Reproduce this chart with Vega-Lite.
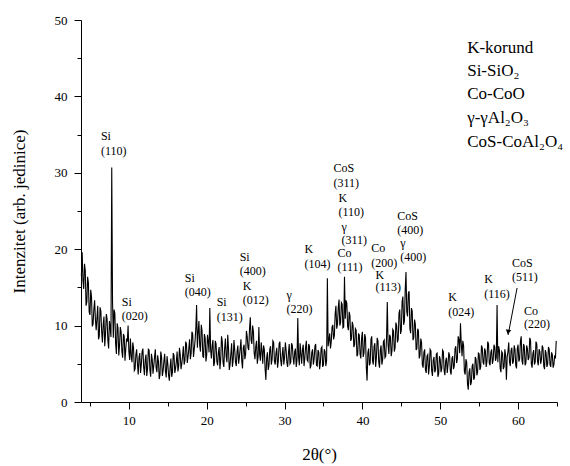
{
  "$schema": "https://vega.github.io/schema/vega-lite/v6.json",
  "width": 476,
  "height": 382,
  "autosize": {"type": "none"},
  "padding": {"left": 81, "top": 20, "right": 13, "bottom": 64},
  "background": "white",
  "config": {
    "view": {"stroke": null},
    "font": "Liberation Serif, Times New Roman, serif",
    "axis": {"domainColor": "black", "tickColor": "black", "labelColor": "black", "titleColor": "black", "grid": false, "labelFont": "Liberation Serif, Times New Roman, serif", "titleFont": "Liberation Serif, Times New Roman, serif", "labelFontSize": 13, "titleFontSize": 17, "titleFontWeight": "normal", "domainWidth": 1, "tickWidth": 1, "labelOverlap": false}
  },
  "datasets": {
    "xrd": [
{"x":3.9,"y":16.5},{"x":4.0,"y":19.6},{"x":4.1,"y":15.9},{"x":4.2,"y":14.8},{"x":4.3,"y":18.1},{"x":4.4,"y":17.2},{"x":4.5,"y":12.6},{"x":4.6,"y":13.1},{"x":4.7,"y":16.4},{"x":4.8,"y":15.6},{"x":4.9,"y":11.8},
{"x":5.0,"y":11.4},{"x":5.1,"y":14.7},{"x":5.2,"y":13.8},{"x":5.3,"y":9.9},{"x":5.4,"y":10.2},{"x":5.5,"y":12.1},{"x":5.6,"y":13.3},{"x":5.7,"y":10.8},{"x":5.8,"y":9.4},{"x":5.9,"y":11.0},
{"x":6.0,"y":12.6},{"x":6.1,"y":8.2},{"x":6.2,"y":8.6},{"x":6.3,"y":12.4},{"x":6.4,"y":11.9},{"x":6.5,"y":9.3},{"x":6.6,"y":7.8},{"x":6.7,"y":10.1},{"x":6.8,"y":11.2},{"x":6.9,"y":7.3},
{"x":7.0,"y":8.9},{"x":7.1,"y":11.5},{"x":7.2,"y":10.9},{"x":7.3,"y":8.1},{"x":7.4,"y":7.0},{"x":7.5,"y":10.6},{"x":7.6,"y":9.8},{"x":7.7,"y":8.5},{"x":7.8,"y":30.7},{"x":7.9,"y":13.2},
{"x":8.0,"y":8.4},{"x":8.1,"y":12.1},{"x":8.2,"y":11.6},{"x":8.3,"y":7.6},{"x":8.4,"y":6.3},{"x":8.5,"y":10.3},{"x":8.6,"y":9.7},{"x":8.7,"y":6.1},{"x":8.8,"y":7.4},{"x":8.9,"y":9.8},
{"x":9.0,"y":9.2},{"x":9.1,"y":6.6},{"x":9.2,"y":5.8},{"x":9.3,"y":8.9},{"x":9.4,"y":8.6},{"x":9.5,"y":5.4},{"x":9.6,"y":6.9},{"x":9.7,"y":8.3},{"x":9.8,"y":7.9},{"x":9.9,"y":10.0},
{"x":10.0,"y":6.6},{"x":10.1,"y":5.5},{"x":10.2,"y":8.3},{"x":10.3,"y":6.0},{"x":10.4,"y":5.2},{"x":10.5,"y":7.8},{"x":10.6,"y":7.1},{"x":10.7,"y":4.1},{"x":10.8,"y":4.3},{"x":10.9,"y":6.2},
{"x":11.0,"y":6.9},{"x":11.1,"y":5.0},{"x":11.2,"y":3.6},{"x":11.3,"y":5.8},{"x":11.4,"y":6.4},{"x":11.5,"y":3.8},{"x":11.6,"y":4.9},{"x":11.7,"y":6.6},{"x":11.8,"y":7.0},{"x":11.9,"y":4.6},
{"x":12.0,"y":3.5},{"x":12.1,"y":5.5},{"x":12.2,"y":6.2},{"x":12.3,"y":3.4},{"x":12.4,"y":4.4},{"x":12.5,"y":6.9},{"x":12.6,"y":6.8},{"x":12.7,"y":4.2},{"x":12.8,"y":3.3},{"x":12.9,"y":6.3},
{"x":13.0,"y":5.6},{"x":13.1,"y":3.7},{"x":13.2,"y":4.8},{"x":13.3,"y":5.9},{"x":13.4,"y":6.9},{"x":13.5,"y":4.5},{"x":13.6,"y":3.9},{"x":13.7,"y":6.1},{"x":13.8,"y":5.3},{"x":13.9,"y":3.0},
{"x":14.0,"y":3.6},{"x":14.1,"y":6.6},{"x":14.2,"y":5.9},{"x":14.3,"y":3.4},{"x":14.4,"y":4.1},{"x":14.5,"y":5.4},{"x":14.6,"y":6.3},{"x":14.7,"y":4.0},{"x":14.8,"y":3.2},{"x":14.9,"y":6.0},
{"x":15.0,"y":5.0},{"x":15.1,"y":3.5},{"x":15.2,"y":2.8},{"x":15.3,"y":4.6},{"x":15.4,"y":5.7},{"x":15.5,"y":3.3},{"x":15.6,"y":3.9},{"x":15.7,"y":6.4},{"x":15.8,"y":6.1},{"x":15.9,"y":3.8},
{"x":16.0,"y":4.4},{"x":16.1,"y":5.3},{"x":16.2,"y":6.6},{"x":16.3,"y":4.0},{"x":16.4,"y":4.7},{"x":16.5,"y":7.1},{"x":16.6,"y":6.2},{"x":16.7,"y":4.3},{"x":16.8,"y":5.0},{"x":16.9,"y":6.0},
{"x":17.0,"y":7.3},{"x":17.1,"y":4.9},{"x":17.2,"y":5.4},{"x":17.3,"y":7.9},{"x":17.4,"y":7.6},{"x":17.5,"y":5.1},{"x":17.6,"y":5.9},{"x":17.7,"y":7.0},{"x":17.8,"y":8.2},{"x":17.9,"y":5.6},
{"x":18.0,"y":6.4},{"x":18.1,"y":9.2},{"x":18.2,"y":8.9},{"x":18.3,"y":5.9},{"x":18.4,"y":6.9},{"x":18.5,"y":8.0},{"x":18.6,"y":9.6},{"x":18.7,"y":12.7},{"x":18.8,"y":7.1},{"x":18.9,"y":9.1},
{"x":19.0,"y":10.6},{"x":19.1,"y":7.4},{"x":19.2,"y":6.6},{"x":19.3,"y":10.1},{"x":19.4,"y":9.3},{"x":19.5,"y":6.0},{"x":19.6,"y":5.8},{"x":19.7,"y":8.9},{"x":19.8,"y":8.4},{"x":19.9,"y":5.3},
{"x":20.0,"y":6.2},{"x":20.1,"y":8.8},{"x":20.2,"y":7.9},{"x":20.3,"y":6.5},{"x":20.4,"y":12.3},{"x":20.5,"y":6.9},{"x":20.6,"y":5.7},{"x":20.7,"y":7.4},{"x":20.8,"y":8.1},{"x":20.9,"y":4.7},
{"x":21.0,"y":5.1},{"x":21.1,"y":8.0},{"x":21.2,"y":7.6},{"x":21.3,"y":5.3},{"x":21.4,"y":4.8},{"x":21.5,"y":6.5},{"x":21.6,"y":7.2},{"x":21.7,"y":4.3},{"x":21.8,"y":5.6},{"x":21.9,"y":8.6},
{"x":22.0,"y":7.9},{"x":22.1,"y":5.1},{"x":22.2,"y":4.6},{"x":22.3,"y":7.0},{"x":22.4,"y":8.3},{"x":22.5,"y":6.0},{"x":22.6,"y":5.2},{"x":22.7,"y":8.8},{"x":22.8,"y":7.0},{"x":22.9,"y":4.2},
{"x":23.0,"y":4.9},{"x":23.1,"y":6.3},{"x":23.2,"y":7.7},{"x":23.3,"y":4.6},{"x":23.4,"y":5.5},{"x":23.5,"y":8.1},{"x":23.6,"y":6.8},{"x":23.7,"y":5.2},{"x":23.8,"y":4.7},{"x":23.9,"y":6.6},
{"x":24.0,"y":7.4},{"x":24.1,"y":5.0},{"x":24.2,"y":5.9},{"x":24.3,"y":7.0},{"x":24.4,"y":8.2},{"x":24.5,"y":5.4},{"x":24.6,"y":4.4},{"x":24.7,"y":7.1},{"x":24.8,"y":7.5},{"x":24.9,"y":5.6},
{"x":25.0,"y":6.3},{"x":25.1,"y":9.3},{"x":25.2,"y":8.6},{"x":25.3,"y":7.1},{"x":25.4,"y":6.8},{"x":25.5,"y":9.6},{"x":25.6,"y":11.1},{"x":25.7,"y":8.1},{"x":25.8,"y":7.6},{"x":25.9,"y":10.0},
{"x":26.0,"y":9.2},{"x":26.1,"y":6.4},{"x":26.2,"y":5.6},{"x":26.3,"y":7.3},{"x":26.4,"y":8.0},{"x":26.5,"y":5.0},{"x":26.6,"y":5.9},{"x":26.7,"y":9.8},{"x":26.8,"y":6.2},{"x":26.9,"y":5.4},
{"x":27.0,"y":7.8},{"x":27.1,"y":6.7},{"x":27.2,"y":5.0},{"x":27.3,"y":7.4},{"x":27.4,"y":6.9},{"x":27.5,"y":4.4},{"x":27.6,"y":2.9},{"x":27.7,"y":5.8},{"x":27.8,"y":6.5},{"x":27.9,"y":4.2},
{"x":28.0,"y":4.8},{"x":28.1,"y":6.9},{"x":28.2,"y":7.3},{"x":28.3,"y":4.9},{"x":28.4,"y":5.6},{"x":28.5,"y":8.0},{"x":28.6,"y":7.8},{"x":28.7,"y":5.3},{"x":28.8,"y":4.9},{"x":28.9,"y":6.4},
{"x":29.0,"y":7.1},{"x":29.1,"y":4.5},{"x":29.2,"y":5.4},{"x":29.3,"y":7.6},{"x":29.4,"y":7.9},{"x":29.5,"y":5.5},{"x":29.6,"y":4.7},{"x":29.7,"y":6.2},{"x":29.8,"y":7.2},{"x":29.9,"y":4.9},
{"x":30.0,"y":5.8},{"x":30.1,"y":7.8},{"x":30.2,"y":6.8},{"x":30.3,"y":5.1},{"x":30.4,"y":4.6},{"x":30.5,"y":6.4},{"x":30.6,"y":7.6},{"x":30.7,"y":5.0},{"x":30.8,"y":5.2},{"x":30.9,"y":7.7},
{"x":31.0,"y":7.4},{"x":31.1,"y":5.8},{"x":31.2,"y":4.9},{"x":31.3,"y":6.6},{"x":31.4,"y":7.0},{"x":31.5,"y":4.6},{"x":31.6,"y":5.5},{"x":31.7,"y":11.0},{"x":31.8,"y":5.9},{"x":31.9,"y":4.8},
{"x":32.0,"y":7.7},{"x":32.1,"y":6.3},{"x":32.2,"y":5.0},{"x":32.3,"y":6.9},{"x":32.4,"y":7.5},{"x":32.5,"y":4.7},{"x":32.6,"y":5.7},{"x":32.7,"y":7.2},{"x":32.8,"y":8.0},{"x":32.9,"y":5.5},
{"x":33.0,"y":5.3},{"x":33.1,"y":7.6},{"x":33.2,"y":7.3},{"x":33.3,"y":4.4},{"x":33.4,"y":4.8},{"x":33.5,"y":6.5},{"x":33.6,"y":6.9},{"x":33.7,"y":4.9},{"x":33.8,"y":5.6},{"x":33.9,"y":7.3},
{"x":34.0,"y":7.6},{"x":34.1,"y":4.8},{"x":34.2,"y":4.7},{"x":34.3,"y":6.8},{"x":34.4,"y":6.5},{"x":34.5,"y":4.3},{"x":34.6,"y":5.1},{"x":34.7,"y":7.0},{"x":34.8,"y":7.2},{"x":34.9,"y":4.6},
{"x":35.0,"y":4.9},{"x":35.1,"y":6.9},{"x":35.2,"y":6.6},{"x":35.3,"y":4.7},{"x":35.4,"y":5.4},{"x":35.5,"y":16.2},{"x":35.6,"y":7.3},{"x":35.7,"y":8.1},{"x":35.8,"y":9.0},{"x":35.9,"y":7.0},
{"x":36.0,"y":7.9},{"x":36.1,"y":9.8},{"x":36.2,"y":10.1},{"x":36.3,"y":8.2},{"x":36.4,"y":8.7},{"x":36.5,"y":11.5},{"x":36.6,"y":12.6},{"x":36.7,"y":9.6},{"x":36.8,"y":10.2},{"x":36.9,"y":12.4},
{"x":37.0,"y":13.4},{"x":37.1,"y":10.0},{"x":37.2,"y":10.4},{"x":37.3,"y":13.0},{"x":37.4,"y":12.8},{"x":37.5,"y":9.7},{"x":37.6,"y":9.8},{"x":37.7,"y":16.4},{"x":37.8,"y":10.9},{"x":37.9,"y":13.3},
{"x":38.0,"y":12.9},{"x":38.1,"y":9.9},{"x":38.2,"y":9.4},{"x":38.3,"y":11.8},{"x":38.4,"y":11.3},{"x":38.5,"y":8.0},{"x":38.6,"y":8.3},{"x":38.7,"y":10.5},{"x":38.8,"y":10.0},{"x":38.9,"y":7.2},
{"x":39.0,"y":7.5},{"x":39.1,"y":9.6},{"x":39.2,"y":9.4},{"x":39.3,"y":6.0},{"x":39.4,"y":6.2},{"x":39.5,"y":8.9},{"x":39.6,"y":8.8},{"x":39.7,"y":6.3},{"x":39.8,"y":5.7},{"x":39.9,"y":8.4},
{"x":40.0,"y":9.2},{"x":40.1,"y":5.9},{"x":40.2,"y":6.4},{"x":40.3,"y":8.9},{"x":40.4,"y":8.4},{"x":40.5,"y":4.6},{"x":40.6,"y":2.8},{"x":40.7,"y":6.4},{"x":40.8,"y":7.0},{"x":40.9,"y":4.8},
{"x":41.0,"y":5.1},{"x":41.1,"y":8.2},{"x":41.2,"y":8.6},{"x":41.3,"y":5.4},{"x":41.4,"y":4.9},{"x":41.5,"y":7.3},{"x":41.6,"y":7.7},{"x":41.7,"y":4.6},{"x":41.8,"y":5.8},{"x":41.9,"y":8.4},
{"x":42.0,"y":8.0},{"x":42.1,"y":5.2},{"x":42.2,"y":4.5},{"x":42.3,"y":6.8},{"x":42.4,"y":7.4},{"x":42.5,"y":4.9},{"x":42.6,"y":5.5},{"x":42.7,"y":7.9},{"x":42.8,"y":8.1},{"x":42.9,"y":5.8},
{"x":43.0,"y":6.0},{"x":43.1,"y":8.3},{"x":43.2,"y":13.1},{"x":43.3,"y":7.5},{"x":43.4,"y":6.3},{"x":43.5,"y":8.8},{"x":43.6,"y":8.5},{"x":43.7,"y":6.0},{"x":43.8,"y":6.7},{"x":43.9,"y":9.5},
{"x":44.0,"y":9.3},{"x":44.1,"y":6.6},{"x":44.2,"y":7.1},{"x":44.3,"y":10.4},{"x":44.4,"y":10.0},{"x":44.5,"y":7.8},{"x":44.6,"y":8.2},{"x":44.7,"y":11.6},{"x":44.8,"y":12.1},{"x":44.9,"y":8.9},
{"x":45.0,"y":9.4},{"x":45.1,"y":13.1},{"x":45.2,"y":13.8},{"x":45.3,"y":10.1},{"x":45.4,"y":10.6},{"x":45.5,"y":14.7},{"x":45.6,"y":17.0},{"x":45.7,"y":11.8},{"x":45.8,"y":11.2},{"x":45.9,"y":14.2},
{"x":46.0,"y":14.5},{"x":46.1,"y":9.6},{"x":46.2,"y":9.0},{"x":46.3,"y":12.3},{"x":46.4,"y":11.9},{"x":46.5,"y":8.1},{"x":46.6,"y":8.4},{"x":46.7,"y":10.8},{"x":46.8,"y":10.2},{"x":46.9,"y":6.8},
{"x":47.0,"y":7.0},{"x":47.1,"y":9.6},{"x":47.2,"y":9.3},{"x":47.3,"y":5.7},{"x":47.4,"y":6.1},{"x":47.5,"y":8.3},{"x":47.6,"y":7.8},{"x":47.7,"y":4.9},{"x":47.8,"y":4.5},{"x":47.9,"y":6.5},
{"x":48.0,"y":6.9},{"x":48.1,"y":4.2},{"x":48.2,"y":3.8},{"x":48.3,"y":6.0},{"x":48.4,"y":6.2},{"x":48.5,"y":3.6},{"x":48.6,"y":4.6},{"x":48.7,"y":6.9},{"x":48.8,"y":6.7},{"x":48.9,"y":4.1},
{"x":49.0,"y":3.4},{"x":49.1,"y":5.5},{"x":49.2,"y":5.9},{"x":49.3,"y":3.9},{"x":49.4,"y":4.2},{"x":49.5,"y":6.3},{"x":49.6,"y":6.4},{"x":49.7,"y":3.3},{"x":49.8,"y":3.7},{"x":49.9,"y":6.0},
{"x":50.0,"y":5.6},{"x":50.1,"y":3.9},{"x":50.2,"y":4.4},{"x":50.3,"y":6.8},{"x":50.4,"y":6.6},{"x":50.5,"y":4.1},{"x":50.6,"y":3.5},{"x":50.7,"y":5.4},{"x":50.8,"y":5.8},{"x":50.9,"y":3.8},
{"x":51.0,"y":4.9},{"x":51.1,"y":6.5},{"x":51.2,"y":6.1},{"x":51.3,"y":4.0},{"x":51.4,"y":3.6},{"x":51.5,"y":5.7},{"x":51.6,"y":6.0},{"x":51.7,"y":4.3},{"x":51.8,"y":4.7},{"x":51.9,"y":7.0},
{"x":52.0,"y":7.3},{"x":52.1,"y":5.1},{"x":52.2,"y":5.6},{"x":52.3,"y":8.6},{"x":52.4,"y":8.2},{"x":52.5,"y":6.4},{"x":52.6,"y":10.3},{"x":52.7,"y":7.7},{"x":52.8,"y":6.0},{"x":52.9,"y":8.0},
{"x":53.0,"y":7.4},{"x":53.1,"y":4.0},{"x":53.2,"y":3.6},{"x":53.3,"y":5.6},{"x":53.4,"y":5.2},{"x":53.5,"y":2.4},{"x":53.6,"y":1.6},{"x":53.7,"y":3.9},{"x":53.8,"y":4.4},{"x":53.9,"y":2.2},
{"x":54.0,"y":2.6},{"x":54.1,"y":4.7},{"x":54.2,"y":5.0},{"x":54.3,"y":2.9},{"x":54.4,"y":3.2},{"x":54.5,"y":5.9},{"x":54.6,"y":5.6},{"x":54.7,"y":3.5},{"x":54.8,"y":3.9},{"x":54.9,"y":6.4},
{"x":55.0,"y":6.3},{"x":55.1,"y":4.2},{"x":55.2,"y":4.6},{"x":55.3,"y":7.4},{"x":55.4,"y":7.1},{"x":55.5,"y":5.2},{"x":55.6,"y":4.9},{"x":55.7,"y":7.0},{"x":55.8,"y":6.7},{"x":55.9,"y":4.6},
{"x":56.0,"y":5.3},{"x":56.1,"y":7.9},{"x":56.2,"y":7.6},{"x":56.3,"y":5.1},{"x":56.4,"y":4.8},{"x":56.5,"y":6.5},{"x":56.6,"y":6.9},{"x":56.7,"y":5.0},{"x":56.8,"y":5.5},{"x":56.9,"y":7.5},
{"x":57.0,"y":7.2},{"x":57.1,"y":5.4},{"x":57.2,"y":5.8},{"x":57.3,"y":12.7},{"x":57.4,"y":5.2},{"x":57.5,"y":7.3},{"x":57.6,"y":6.8},{"x":57.7,"y":4.4},{"x":57.8,"y":3.9},{"x":57.9,"y":6.6},
{"x":58.0,"y":6.4},{"x":58.1,"y":4.3},{"x":58.2,"y":4.6},{"x":58.3,"y":6.9},{"x":58.4,"y":6.1},{"x":58.5,"y":2.9},{"x":58.6,"y":5.9},{"x":58.7,"y":6.6},{"x":58.8,"y":7.8},{"x":58.9,"y":5.2},
{"x":59.0,"y":4.7},{"x":59.1,"y":6.8},{"x":59.2,"y":7.1},{"x":59.3,"y":5.0},{"x":59.4,"y":5.3},{"x":59.5,"y":7.4},{"x":59.6,"y":6.9},{"x":59.7,"y":4.8},{"x":59.8,"y":4.4},{"x":59.9,"y":7.0},
{"x":60.0,"y":7.5},{"x":60.1,"y":5.3},{"x":60.2,"y":5.6},{"x":60.3,"y":7.9},{"x":60.4,"y":8.6},{"x":60.5,"y":5.4},{"x":60.6,"y":4.9},{"x":60.7,"y":7.6},{"x":60.8,"y":7.3},{"x":60.9,"y":4.8},
{"x":61.0,"y":5.1},{"x":61.1,"y":7.4},{"x":61.2,"y":7.0},{"x":61.3,"y":5.5},{"x":61.4,"y":5.8},{"x":61.5,"y":8.4},{"x":61.6,"y":8.1},{"x":61.7,"y":5.0},{"x":61.8,"y":4.5},{"x":61.9,"y":6.3},
{"x":62.0,"y":6.8},{"x":62.1,"y":4.9},{"x":62.2,"y":5.2},{"x":62.3,"y":7.9},{"x":62.4,"y":7.6},{"x":62.5,"y":5.3},{"x":62.6,"y":4.8},{"x":62.7,"y":6.9},{"x":62.8,"y":6.6},{"x":62.9,"y":5.0},
{"x":63.0,"y":5.5},{"x":63.1,"y":7.4},{"x":63.2,"y":7.1},{"x":63.3,"y":4.7},{"x":63.4,"y":4.3},{"x":63.5,"y":6.8},{"x":63.6,"y":6.4},{"x":63.7,"y":4.6},{"x":63.8,"y":5.0},{"x":63.9,"y":7.2},
{"x":64.0,"y":6.9},{"x":64.1,"y":4.9},{"x":64.2,"y":4.6},{"x":64.3,"y":6.5},{"x":64.4,"y":6.2},{"x":64.5,"y":4.5},{"x":64.6,"y":4.9},{"x":64.7,"y":6.1},{"x":64.8,"y":5.7},{"x":64.9,"y":8.0}
    ],
    "labels": [
      {"x":6.41,"y":34.82,"t":"Si"},{"x":6.41,"y":32.85,"t":"(110)"},
      {"x":9.10,"y":13.09,"t":"Si"},{"x":9.10,"y":11.26,"t":"(020)"},
      {"x":17.18,"y":16.23,"t":"Si"},{"x":17.18,"y":14.40,"t":"(040)"},
      {"x":21.28,"y":13.09,"t":"Si"},{"x":21.28,"y":11.13,"t":"(131)"},
      {"x":24.23,"y":18.98,"t":"Si"},{"x":24.23,"y":17.15,"t":"(400)"},
      {"x":24.62,"y":15.18,"t":"K"},{"x":24.62,"y":13.35,"t":"(012)"},
      {"x":30.26,"y":14.01,"t":"γ"},{"x":30.26,"y":12.17,"t":"(220)"},
      {"x":32.56,"y":20.03,"t":"K"},{"x":32.56,"y":18.06,"t":"(104)"},
      {"x":36.28,"y":30.63,"t":"CoS"},{"x":36.28,"y":28.66,"t":"(311)"},
      {"x":36.92,"y":26.70,"t":"K"},{"x":36.92,"y":24.87,"t":"(110)"},
      {"x":37.31,"y":22.91,"t":"γ"},{"x":37.31,"y":21.20,"t":"(311)"},
      {"x":36.79,"y":19.50,"t":"Co"},{"x":36.79,"y":17.67,"t":"(111)"},
      {"x":41.15,"y":20.16,"t":"Co"},{"x":41.15,"y":18.19,"t":"(200)"},
      {"x":41.67,"y":16.65,"t":"K"},{"x":41.67,"y":15.00,"t":"(113)"},
      {"x":44.49,"y":24.35,"t":"CoS"},{"x":44.49,"y":22.51,"t":"(400)"},
      {"x":44.87,"y":20.85,"t":"γ"},{"x":44.87,"y":18.98,"t":"(400)"},
      {"x":51.03,"y":13.74,"t":"K"},{"x":51.03,"y":11.78,"t":"(024)"},
      {"x":55.64,"y":16.10,"t":"K"},{"x":55.64,"y":14.14,"t":"(116)"},
      {"x":59.23,"y":18.19,"t":"CoS"},{"x":59.23,"y":16.36,"t":"(511)"},
      {"x":60.77,"y":11.91,"t":"Co"},{"x":60.77,"y":10.21,"t":"(220)"}
    ],
    "legend": [
      {"x":53.46,"y":46.34,"t":"K-korund"},
      {"x":53.46,"y":43.26,"t":"Si-SiO₂"},
      {"x":53.46,"y":40.31,"t":"Co-CoO"},
      {"x":53.46,"y":37.11,"t":"γ-γAl₂O₃"},
      {"x":53.46,"y":34.03,"t":"CoS-CoAl₂O₄"}
    ],
    "arrow": [
      {"x":59.87,"y":14.92,"x2":58.72,"y2":8.77}
    ],
    "arrowhead": [
      {"x":58.72,"y":8.77}
    ]
  },
  "encoding": {
    "x": {"field": "x", "type": "quantitative", "scale": {"domain": [3.85, 65], "nice": false, "zero": false},
      "axis": {"title": "2θ(°)", "values": [5,10,15,20,25,30,35,40,45,50,55,60,65], "labelExpr": "datum.value % 10 === 0 ? datum.label : ''",
        "tickSize": {"condition": {"test": "datum.value % 10 === 0", "value": 7}, "value": 4}, "labelPadding": 5, "titlePadding": 19}},
    "y": {"field": "y", "type": "quantitative", "scale": {"domain": [0, 50], "nice": false},
      "axis": {"title": "Intenzitet (arb. jedinice)", "values": [0,5,10,15,20,25,30,35,40,45,50], "labelExpr": "datum.value % 10 === 0 ? datum.label : ''",
        "tickSize": {"condition": {"test": "datum.value % 10 === 0", "value": 7}, "value": 4}, "labelPadding": 7, "titlePadding": 26}}
  },
  "layer": [
    {
      "data": {"name": "xrd"},
      "mark": {"type": "line", "color": "black", "strokeWidth": 1.1}
    },
    {
      "data": {"name": "labels"},
      "mark": {"type": "text", "align": "left", "baseline": "middle", "fontSize": 12, "color": "black"},
      "encoding": {"text": {"field": "t"}}
    },
    {
      "data": {"name": "legend"},
      "mark": {"type": "text", "align": "left", "baseline": "middle", "fontSize": 17, "color": "black"},
      "encoding": {"text": {"field": "t"}}
    },
    {
      "data": {"name": "arrow"},
      "mark": {"type": "rule", "color": "black", "strokeWidth": 1},
      "encoding": {"x2": {"field": "x2"}, "y2": {"field": "y2"}}
    },
    {
      "data": {"name": "arrowhead"},
      "mark": {"type": "point", "shape": "triangle-down", "filled": true, "color": "black", "size": 30, "angle": 11, "opacity": 1, "yOffset": -3}
    }
  ]
}
